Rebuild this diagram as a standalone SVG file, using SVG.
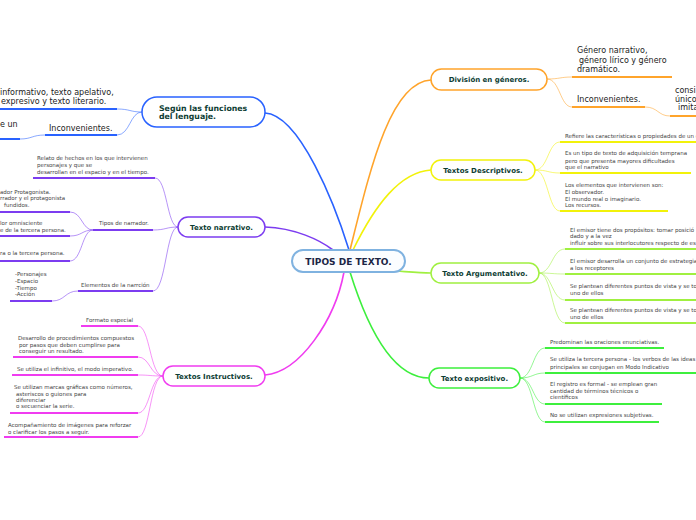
<svg xmlns="http://www.w3.org/2000/svg" width="696" height="520" viewBox="0 0 696 520">
<style>
.n{fill:#fff;stroke-width:1.5}
.lb{font-family:"DejaVu Sans",Verdana,sans-serif;font-weight:bold;font-size:7px;fill:#0d3d33;text-anchor:middle}
.lb2{font-family:"DejaVu Sans",Verdana,sans-serif;font-weight:bold;font-size:7.8px;fill:#0d3d33}
.t{font-family:"DejaVu Sans",Verdana,sans-serif;font-size:5.5px;fill:#444}
.m{font-family:"DejaVu Sans",Verdana,sans-serif;font-size:8px;fill:#222}
.u{fill:none;stroke-width:2}
.c{fill:none;stroke-width:1;stroke-opacity:0.55}
.k{fill:none;stroke-width:1.6}
.bl{stroke:#2962ff}.pu{stroke:#7c3cf0}.mg{stroke:#f03cf0}.or{stroke:#ffa42b}.ye{stroke:#f2f20a}.lg{stroke:#a0f040}.gr{stroke:#3def3d}
</style>
<g id="connectors">
<!-- main -->
<path class="k bl" d="M349,250 C335,205 300,115 265,113"/>
<path class="k pu" d="M333,250 C320,240 295,228 265,227"/>
<path class="k mg" d="M344,272 C335,320 300,372 265,375"/>
<path class="k or" d="M350,250 C370,170 390,82 431,80"/>
<path class="k ye" d="M353,250 C375,205 400,172 431,170"/>
<path class="k lg" d="M396,271 C410,272 420,273 431,273"/>
<path class="k gr" d="M350,272 C365,320 390,378 429,378"/>
<!-- blue -->
<path class="u bl" d="M0,109 H117"/>
<path class="c bl" d="M117,109 C130,109 130,112 142,112"/>
<path class="u bl" d="M45,135 H117"/>
<path class="c bl" d="M117,135 C130,135 130,112 142,112"/>
<path class="u bl" d="M0,139 H20"/>
<path class="c bl" d="M20,139 C32,139 32,135 45,135"/>
<!-- purple -->
<path class="u pu" d="M33,178 H155"/>
<path class="c pu" d="M155,178 C167,178 167,227 178,227"/>
<path class="u pu" d="M93,230 H153"/>
<path class="c pu" d="M153,230 C166,230 166,227 178,227"/>
<path class="u pu" d="M0,212 H70"/>
<path class="c pu" d="M70,212 C82,212 82,230 93,230"/>
<path class="u pu" d="M0,236 H70"/>
<path class="c pu" d="M70,236 C82,236 82,230 93,230"/>
<path class="u pu" d="M0,261 H70"/>
<path class="c pu" d="M70,261 C82,261 82,230 93,230"/>
<path class="u pu" d="M78,291 H153"/>
<path class="c pu" d="M153,291 C166,291 166,227 178,227"/>
<path class="u pu" d="M10,301 H52"/>
<path class="c pu" d="M52,301 C65,301 65,291 78,291"/>
<!-- magenta -->
<path class="u mg" d="M81,326 H138"/>
<path class="c mg" d="M138,326 C150,326 150,376 163,376"/>
<path class="u mg" d="M13,357 H138"/>
<path class="c mg" d="M138,357 C150,357 150,376 163,376"/>
<path class="u mg" d="M12,375 H138"/>
<path class="c mg" d="M138,375 C150,375 150,376 163,376"/>
<path class="u mg" d="M10,413 H138"/>
<path class="c mg" d="M138,413 C150,413 150,376 163,376"/>
<path class="u mg" d="M4,437 H138"/>
<path class="c mg" d="M138,437 C150,437 150,376 163,376"/>
<!-- orange -->
<path class="u or" d="M572,77 H672"/>
<path class="c or" d="M547,79 C560,79 560,77 572,77"/>
<path class="u or" d="M572,107 H645"/>
<path class="c or" d="M547,79 C560,79 560,107 572,107"/>
<path class="u or" d="M670,116 H696"/>
<path class="c or" d="M645,107 C658,107 658,116 670,116"/>
<!-- yellow -->
<path class="u ye" d="M560,142 H696"/>
<path class="c ye" d="M535,170 C548,170 548,142 560,142"/>
<path class="u ye" d="M560,173 H691"/>
<path class="c ye" d="M535,170 C548,170 548,173 560,173"/>
<path class="u ye" d="M560,211 H668"/>
<path class="c ye" d="M535,170 C548,170 548,211 560,211"/>
<!-- light green -->
<path class="u lg" d="M565,249 H696"/>
<path class="c lg" d="M539,273 C552,273 552,249 565,249"/>
<path class="u lg" d="M565,274 H696"/>
<path class="c lg" d="M539,273 C552,273 552,274 565,274"/>
<path class="u lg" d="M565,300 H696"/>
<path class="c lg" d="M539,273 C552,273 552,300 565,300"/>
<path class="u lg" d="M565,323 H696"/>
<path class="c lg" d="M539,273 C552,273 552,323 565,323"/>
<!-- green -->
<path class="u gr" d="M545,348 H664"/>
<path class="c gr" d="M520,378 C533,378 533,348 545,348"/>
<path class="u gr" d="M545,373 H696"/>
<path class="c gr" d="M520,378 C533,378 533,373 545,373"/>
<path class="u gr" d="M545,404 H662"/>
<path class="c gr" d="M520,378 C533,378 533,404 545,404"/>
<path class="u gr" d="M545,422 H659"/>
<path class="c gr" d="M520,378 C533,378 533,422 545,422"/>
</g>

<g id="central">
<rect x="292" y="250" width="113" height="22" rx="11" fill="#fbfdff" stroke="#7fb2e0" stroke-width="2"/>
<text x="348.5" y="264.5" font-family="DejaVu Sans,Verdana,sans-serif" font-weight="bold" font-size="9" fill="#1b2545" text-anchor="middle">TIPOS DE TEXTO.</text>
</g>

<g id="funciones">
<rect class="n bl" x="142" y="97" width="123" height="30" rx="15"/>
<text class="lb2" x="159" y="110.5">Según las funciones</text>
<text class="lb2" x="159" y="118.5">del lenguaje.</text>
</g>
<g id="funciones-texto">
<text class="m" x="0" y="95">informativo, texto apelativo,</text>
<text class="m" x="1" y="103.5">expresivo y texto literario.</text>
</g>
<g id="funciones-inconvenientes">
<text class="m" x="49" y="131">Inconvenientes.</text>
</g>
<g id="funciones-inconv-hijo">
<text class="m" x="0" y="127">e un</text>
</g>

<g id="narrativo">
<rect class="n pu" x="178" y="217" width="87" height="20" rx="10"/>
<text class="lb" x="221.5" y="229.5">Texto narrativo.</text>
</g>
<g id="relato">
<text class="t" x="37" y="160">Relato de hechos en los que intervienen</text>
<text class="t" x="37" y="166.5">personajes y que se</text>
<text class="t" x="37" y="173.5">desarrollan en el espacio y en el tiempo.</text>
</g>
<g id="tipos-narrador">
<text class="t" x="99" y="224.5">Tipos de narrador.</text>
</g>
<g id="narrador-1">
<text class="t" x="0" y="193.5">ador Protagonista.</text>
<text class="t" x="0" y="200">rrador y el protagonista</text>
<text class="t" x="4" y="206.5">fundidos.</text>
</g>
<g id="narrador-2">
<text class="t" x="0" y="225">lor omnisciente</text>
<text class="t" x="0" y="231.5">e de la tercera persona.</text>
</g>
<g id="narrador-3">
<text class="t" x="0" y="255">ra o la tercera persona.</text>
</g>
<g id="elementos">
<text class="t" x="81" y="287">Elementos de la narrción</text>
</g>
<g id="elementos-lista">
<text class="t" x="15" y="276">-Personajes</text>
<text class="t" x="15" y="282.5">-Espacio</text>
<text class="t" x="15" y="289.5">-Tiempo</text>
<text class="t" x="15" y="296">-Acción</text>
</g>

<g id="instructivos">
<rect class="n mg" x="163" y="366" width="102" height="20" rx="10"/>
<text class="lb" x="214" y="378.5">Textos Instructivos.</text>
</g>
<g id="formato">
<text class="t" x="86" y="322">Formato especial</text>
</g>
<g id="desarrollo">
<text class="t" x="18" y="340">Desarrollo de procedimientos compuestos</text>
<text class="t" x="19" y="346.5">por pasos que deben cumplirse para</text>
<text class="t" x="19" y="353">conseguir un resultado.</text>
</g>
<g id="infinitivo">
<text class="t" x="17" y="371">Se utiliza el infinitivo, el modo imperativo.</text>
</g>
<g id="marcas">
<text class="t" x="14" y="389">Se utilizan marcas gráficas como números,</text>
<text class="t" x="16" y="395.5">asteriscos o guiones para</text>
<text class="t" x="16" y="402">diferenciar</text>
<text class="t" x="16" y="408">o secuenciar la serie.</text>
</g>
<g id="imagenes">
<text class="t" x="8" y="426.5">Acompañamiento de imágenes para reforzar</text>
<text class="t" x="8" y="433.5">o clarificar los pasos a seguir.</text>
</g>

<g id="generos">
<rect class="n or" x="431" y="69" width="116" height="21" rx="10.5"/>
<text class="lb" x="489" y="82" font-size="7.8">División en géneros.</text>
</g>
<g id="genero-lista">
<text class="m" x="577" y="53">Género narrativo,</text>
<text class="m" x="579" y="63">género lírico y género</text>
<text class="m" x="577" y="72">dramático.</text>
</g>
<g id="generos-inconvenientes">
<text class="m" x="577" y="102">Inconvenientes.</text>
</g>
<g id="generos-inconv-hijo">
<text class="m" x="675" y="93">consi</text>
<text class="m" x="675" y="102">único</text>
<text class="m" x="678" y="110">imita</text>
</g>

<g id="descriptivos">
<rect class="n ye" x="431" y="160" width="104" height="20" rx="10"/>
<text class="lb" x="483" y="172.5">Textos Descriptivos.</text>
</g>
<g id="refiere">
<text class="t" x="565" y="138">Refiere las características o propiedades de un e</text>
</g>
<g id="adquisicion">
<text class="t" x="565" y="155">Es un tipo de texto de adquisición temprana</text>
<text class="t" x="565" y="162.5">pero que presenta mayores dificultades</text>
<text class="t" x="565" y="169">que el narrativo</text>
</g>
<g id="elementos-desc">
<text class="t" x="565" y="187">Los elementos que intervienen son:</text>
<text class="t" x="565" y="193.5">El observador.</text>
<text class="t" x="565" y="200.5">El mundo real o imaginario.</text>
<text class="t" x="565" y="206.5">Los recursos.</text>
</g>

<g id="argumentativo">
<rect class="n lg" x="431" y="263" width="108" height="20" rx="10"/>
<text class="lb" x="485" y="275.5">Texto Argumentativo.</text>
</g>
<g id="arg-1">
<text class="t" x="570" y="232">El emisor tiene dos propósitos: tomar posició</text>
<text class="t" x="570" y="238">dado y a la vez</text>
<text class="t" x="570" y="245">influir sobre sus interlocutores respecto de es</text>
</g>
<g id="arg-2">
<text class="t" x="570" y="263">El emisor desarrolla un conjunto de estrategia</text>
<text class="t" x="570" y="269.5">a los receptores</text>
</g>
<g id="arg-3">
<text class="t" x="570" y="288">Se plantean diferentes puntos de vista y se to</text>
<text class="t" x="570" y="294.5">uno de ellos</text>
</g>
<g id="arg-4">
<text class="t" x="570" y="312">Se plantean diferentes puntos de vista y se to</text>
<text class="t" x="570" y="318.5">uno de ellos</text>
</g>

<g id="expositivo">
<rect class="n gr" x="429" y="368" width="91" height="20" rx="10"/>
<text class="lb" x="474.5" y="380.5">Texto expositivo.</text>
</g>
<g id="exp-1">
<text class="t" x="550" y="344">Predominan las oraciones enunciativas.</text>
</g>
<g id="exp-2">
<text class="t" x="550" y="361">Se utiliza la tercera persona - los verbos de las ideas</text>
<text class="t" x="550" y="369">principales se conjugan en Modo Indicativo</text>
</g>
<g id="exp-3">
<text class="t" x="550" y="386">El registro es formal - se emplean gran</text>
<text class="t" x="550" y="393">cantidad de términos técnicos o</text>
<text class="t" x="550" y="399">científicos</text>
</g>
<g id="exp-4">
<text class="t" x="550" y="417">No se utilizan expresiones subjetivas.</text>
</g>
</svg>
